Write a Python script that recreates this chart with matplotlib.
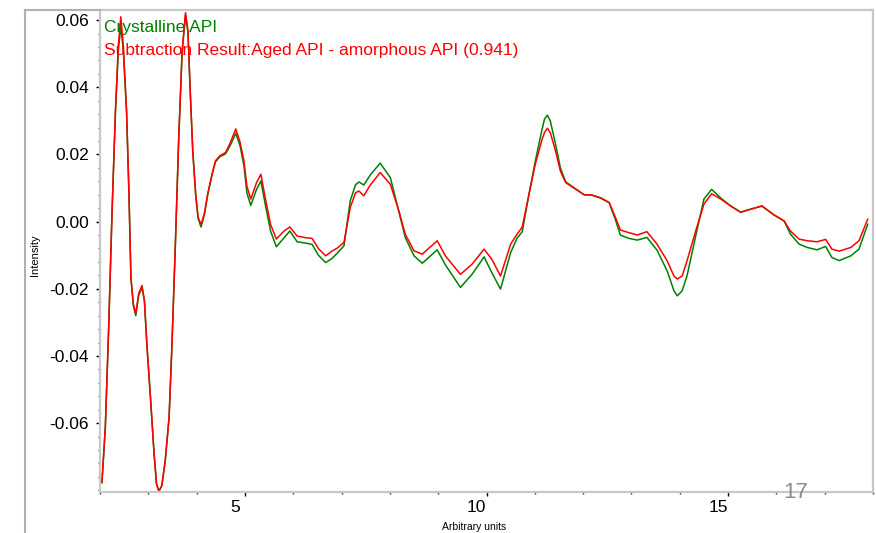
import matplotlib
matplotlib.use('Agg')
import matplotlib.pyplot as plt
from matplotlib.lines import Line2D
from matplotlib.ticker import MultipleLocator, FormatStrFormatter
from matplotlib.transforms import ScaledTranslation

plt.rcParams['font.family'] = ['Liberation Sans', 'DejaVu Sans']
plt.rcParams['axes.unicode_minus'] = False

# spectra, arbitrary units on x
x = [2.04, 2.11, 2.18, 2.25, 2.32, 2.38, 2.43, 2.48, 2.55, 2.60,
     2.64, 2.69, 2.74, 2.80, 2.87, 2.92, 2.97, 3.04, 3.12, 3.17,
     3.22, 3.28, 3.35, 3.43, 3.49, 3.56, 3.63, 3.70, 3.77, 3.82,
     3.87, 3.92, 3.98, 4.03, 4.09, 4.16, 4.23, 4.32, 4.39, 4.48,
     4.60, 4.70, 4.81, 4.90, 4.98, 5.04, 5.12, 5.24, 5.33, 5.42,
     5.53, 5.65, 5.81, 5.93, 6.08, 6.26, 6.39, 6.52, 6.67, 6.80,
     6.91, 7.05, 7.18, 7.29, 7.36, 7.46, 7.60, 7.80, 8.01, 8.19,
     8.32, 8.50, 8.67, 8.84, 8.98, 9.15, 9.46, 9.70, 9.95, 10.11,
     10.29, 10.50, 10.63, 10.74, 10.88, 11.01, 11.15, 11.20, 11.26, 11.32,
     11.43, 11.53, 11.64, 11.81, 12.02, 12.18, 12.36, 12.54, 12.67, 12.77,
     12.95, 13.12, 13.32, 13.53, 13.74, 13.88, 13.95, 14.05, 14.15, 14.33,
     14.50, 14.66, 14.85, 15.05, 15.26, 15.47, 15.70, 15.95, 16.16, 16.29,
     16.47, 16.64, 16.84, 17.02, 17.15, 17.30, 17.54, 17.71, 17.89]

crystalline = [
    -0.0777, -0.0613, -0.0315, 0.0032, 0.0329, 0.0510, 0.0580, 0.0515, 0.0325, 0.0080,
    -0.0167, -0.0250, -0.0280, -0.0220, -0.0196, -0.0238, -0.0365, -0.0514, -0.0692, -0.0781,
    -0.0803, -0.0786, -0.0712, -0.0583, -0.0365, -0.0067, 0.0250, 0.0505, 0.0615, 0.0565,
    0.0379, 0.0210, 0.0080, 0.0010, -0.0016, 0.0020, 0.0080, 0.0140, 0.0178, 0.0193,
    0.0202, 0.0228, 0.0263, 0.0225, 0.0166, 0.0086, 0.0048, 0.0096, 0.0121, 0.0052,
    -0.0028, -0.0075, -0.0048, -0.0028, -0.0060, -0.0064, -0.0068, -0.0100, -0.0122, -0.0110,
    -0.0094, -0.0072, 0.0062, 0.0110, 0.0118, 0.0109, 0.0140, 0.0174, 0.0131, 0.0027,
    -0.0048, -0.0102, -0.0124, -0.0102, -0.0084, -0.0129, -0.0196, -0.0157, -0.0105, -0.0152,
    -0.0201, -0.0092, -0.0050, -0.0030, 0.0082, 0.0180, 0.0275, 0.0305, 0.0317, 0.0300,
    0.0230, 0.0160, 0.0118, 0.0101, 0.0080, 0.0079, 0.0070, 0.0056, 0.0005, -0.0040,
    -0.0050, -0.0055, -0.0047, -0.0085, -0.0147, -0.0206, -0.0221, -0.0206, -0.0162, -0.0043,
    0.0067, 0.0096, 0.0070, 0.0047, 0.0028, 0.0037, 0.0046, 0.0020, 0.0002, -0.0037,
    -0.0067, -0.0077, -0.0084, -0.0074, -0.0107, -0.0116, -0.0102, -0.0082, -0.0008]

subtraction = [
    -0.0777, -0.0613, -0.0315, 0.0032, 0.0330, 0.0525, 0.0610, 0.0530, 0.0330, 0.0080,
    -0.0167, -0.0246, -0.0275, -0.0214, -0.0190, -0.0236, -0.0365, -0.0514, -0.0692, -0.0781,
    -0.0803, -0.0786, -0.0712, -0.0583, -0.0365, -0.0067, 0.0250, 0.0508, 0.0622, 0.0567,
    0.0379, 0.0210, 0.0082, 0.0014, -0.0009, 0.0024, 0.0083, 0.0142, 0.0181, 0.0196,
    0.0206, 0.0236, 0.0276, 0.0236, 0.0180, 0.0106, 0.0067, 0.0116, 0.0141, 0.0071,
    -0.0008, -0.0052, -0.0028, -0.0016, -0.0043, -0.0048, -0.0050, -0.0080, -0.0102, -0.0088,
    -0.0079, -0.0062, 0.0042, 0.0086, 0.0091, 0.0077, 0.0110, 0.0146, 0.0111, 0.0030,
    -0.0038, -0.0087, -0.0097, -0.0075, -0.0057, -0.0102, -0.0157, -0.0127, -0.0082, -0.0112,
    -0.0162, -0.0067, -0.0038, -0.0016, 0.0082, 0.0171, 0.0245, 0.0265, 0.0278, 0.0265,
    0.0210, 0.0150, 0.0116, 0.0100, 0.0080, 0.0079, 0.0071, 0.0057, 0.0012, -0.0025,
    -0.0033, -0.0040, -0.0030, -0.0067, -0.0117, -0.0162, -0.0171, -0.0162, -0.0117, -0.0028,
    0.0052, 0.0083, 0.0067, 0.0047, 0.0028, 0.0037, 0.0047, 0.0020, 0.0002, -0.0028,
    -0.0052, -0.0057, -0.0060, -0.0053, -0.0082, -0.0088, -0.0077, -0.0057, 0.0007]

y_ticks = [-0.06, -0.04, -0.02, 0.00, 0.02, 0.04, 0.06]
x_ticks = [5, 10, 15]

W, H = 876, 533
fig = plt.figure(figsize=(W / 100, H / 100), dpi=100)
ax = fig.add_axes([100 / W, 41 / H, 773 / W, 482 / H])

ax.plot(x, crystalline, color='#008000', lw=1.1)
ax.plot(x, subtraction, color='#ff0000', lw=1.1)

ax.set_xlim(2.0, 18.0)
ax.set_ylim(-0.0805, 0.0630)
ax.set_xticks(x_ticks)
ax.set_yticks(y_ticks)
ax.xaxis.set_minor_locator(MultipleLocator(1))
ax.yaxis.set_minor_locator(MultipleLocator(0.004))
ax.yaxis.set_major_formatter(FormatStrFormatter('%.2f'))

ax.tick_params(which='major', direction='out', length=3, width=1, color='black',
               labelsize=12.5)
ax.tick_params(which='minor', direction='out', length=1.5, width=1, color='#333333')
ax.tick_params(axis='y', which='major', pad=5)
ax.tick_params(axis='x', which='major', pad=3)

for side in ['left', 'bottom', 'right', 'top']:
    ax.spines[side].set_color('#c8c8c8')
    ax.spines[side].set_linewidth(1.6)

# x labels sit a little to the left of their ticks
shift = ScaledTranslation(-0.10, 0, fig.dpi_scale_trans)
for lab in ax.get_xticklabels():
    lab.set_transform(lab.get_transform() + shift)

ax.text(0.005, 0.955, 'Crystalline API', color='#008000', fontsize=12.5,
        transform=ax.transAxes, va='baseline', ha='left')
ax.text(0.005, 0.907, 'Subtraction Result:Aged API - amorphous API (0.941)',
        color='#ff0000', fontsize=12.5, transform=ax.transAxes,
        va='baseline', ha='left')

fig.text(35 / W, 1 - 255 / H, 'Intensity', rotation=90, fontsize=8,
         ha='center', va='center')
fig.text(474 / W, 1 - 527 / H, 'Arbitrary units', fontsize=7.5,
         ha='center', va='center')
fig.text(796 / W, 1 - 492 / H, '17', fontsize=16, color='#8c8c8c',
         ha='center', va='center')

# outer frame
fig.add_artist(Line2D([25 / W, 25 / W], [0, 1 - 10 / H], color='#b0b0b0', lw=1.5))
fig.add_artist(Line2D([25 / W, 100 / W], [1 - 10 / H, 1 - 10 / H], color='#b0b0b0', lw=1.5))

fig.savefig('out.png', dpi=100)
